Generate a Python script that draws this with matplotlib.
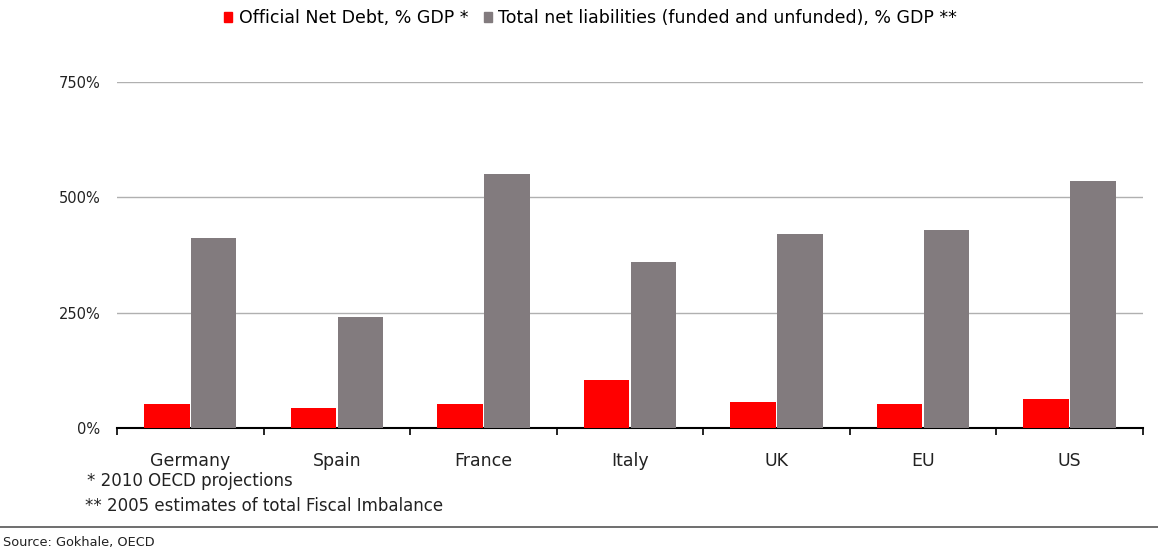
import numpy as np
import matplotlib.pyplot as plt
from matplotlib.patches import Patch

plt.rcParams['font.family'] = ['DejaVu Sans']

# data
countries = ['Germany', 'Spain', 'France', 'Italy', 'UK', 'EU', 'US']
net_debt = [52, 43, 52, 104, 56, 52, 63]
liabilities = [412, 241, 551, 360, 420, 429, 535]
yticks = [0, 250, 500, 750]
ytick_labels = ['0%', '250%', '500%', '750%']

red = '#ff0000'
grey = '#827b7e'

fig = plt.figure(figsize=(11.58, 5.5), dpi=100)
ax = fig.add_axes([0.101, 0.222, 0.886, 0.629])

x = np.arange(len(countries))
w = 0.31
ax.bar(x - w / 2 - 0.005, net_debt, w, color=red, zorder=3)
ax.bar(x + w / 2 + 0.005, liabilities, w, color=grey, zorder=3)

ax.set_xlim(-0.5, len(countries) - 0.5)
ax.set_ylim(0, 750)
ax.set_yticks(yticks)
ax.set_yticklabels(ytick_labels, fontsize=10.5, color='#222222')
ax.tick_params(axis='y', length=0, pad=12)
ax.yaxis.grid(True, color='#b0b0b0', linewidth=1.0, zorder=0)

# category labels at centres, ticks at boundaries
ax.set_xticks(x)
ax.set_xticklabels(countries, fontsize=12.5, color='#222222')
ax.tick_params(axis='x', which='major', length=0, pad=17)
ax.set_xticks(np.arange(len(countries) + 1) - 0.5, minor=True)
ax.tick_params(axis='x', which='minor', length=5, width=1.2, direction='out')

for side in ['left', 'right', 'top']:
    ax.spines[side].set_visible(False)
ax.spines['bottom'].set_linewidth(1.5)

handles = [Patch(color=red), Patch(color=grey)]
labels = ['Official Net Debt, % GDP *', 'Total net liabilities (funded and unfunded), % GDP **']
fig.legend(handles, labels, loc='center', bbox_to_anchor=(0.51, 0.967), ncol=2,
           frameon=False, fontsize=12.5, handlelength=0.45, handleheight=0.45,
           handletextpad=0.4, columnspacing=0.9)

fig.text(0.075, 0.116, '* 2010 OECD projections', fontsize=12, color='#222222')
fig.text(0.073, 0.071, '** 2005 estimates of total Fiscal Imbalance', fontsize=12, color='#222222')
fig.add_artist(plt.Line2D([0, 1], [0.042, 0.042], color='#555555', linewidth=1.2))
fig.text(0.003, 0.008, 'Source: Gokhale, OECD', fontsize=9.3, color='#222222')

plt.savefig('out.png', dpi=100)
